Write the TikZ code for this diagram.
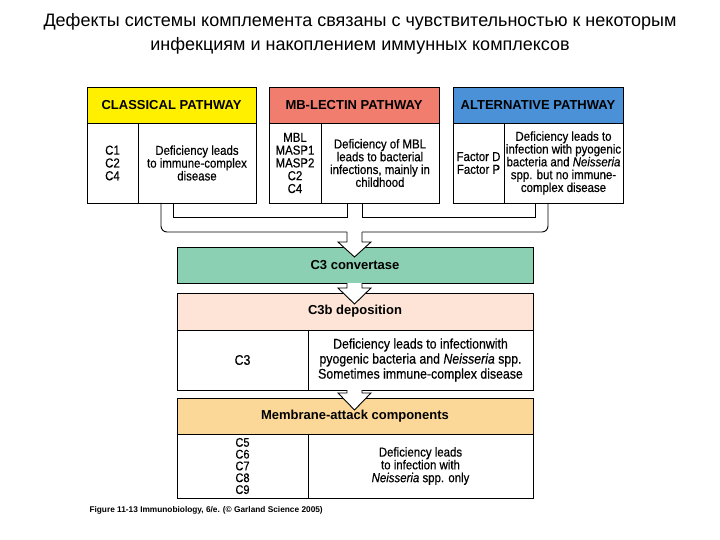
\documentclass[tikz,border=0pt]{standalone}
\usepackage{fontspec}
\setmainfont{Liberation Sans}
\newfontfamily\narrowsans{Liberation Sans}[FakeStretch=0.88, FakeBold=0.5]
\usepackage{tikz}

\definecolor{cpyellow}{RGB}{255,240,0}
\definecolor{mblsalmon}{RGB}{240,125,110}
\definecolor{apblue}{RGB}{75,145,215}
\definecolor{convgreen}{RGB}{140,208,180}
\definecolor{depopink}{RGB}{253,228,214}
\definecolor{macorange}{RGB}{251,216,152}

\begin{document}
\begin{tikzpicture}[x=1pt, y=-1pt]
			\tikzstyle{Head}	= [draw, line width=0.9pt, inner sep=0pt, minimum height=36pt, font=\bfseries\fontsize{13}{15}\selectfont]
			\tikzstyle{Cell}	= [draw, line width=0.9pt, inner sep=0pt, align=center, font=\narrowsans\fontsize{13}{12.8}\selectfont]
			\tikzstyle{BigCell}	= [Cell, font=\narrowsans\fontsize{14}{15}\selectfont]
			\tikzstyle{Pipe}	= [line width=0.9pt]
			\tikzstyle{Outer}	= [Pipe, rounded corners=6pt]
			\tikzstyle{Flow}	= [Pipe, fill=white]
			
			\useasboundingbox (0, 0) rectangle (720, 540);
			
			\node (title) at (360, 34) [align=center, font=\fontsize{18}{24}\selectfont] {Дефекты системы комплемента связаны с чувствительностью к некоторым\\инфекциям и накоплением иммунных комплексов};
			
			% three pathways
			\node (cp) at (171.5, 105) [Head][fill=cpyellow, minimum width=169pt] {CLASSICAL PATHWAY};
			\node (cpgenes) at (112.5, 163) [Cell][minimum width=51pt, minimum height=80pt] {C1\\C2\\C4};
			\node (cpdef) at (197, 163) [Cell][minimum width=118pt, minimum height=80pt] {Deficiency leads\\to immune-complex\\disease};
			
			\node (mb) at (354, 105) [Head][fill=mblsalmon, minimum width=170pt] {MB-LECTIN PATHWAY};
			\node (mbgenes) at (295, 163) [Cell][minimum width=52pt, minimum height=80pt] {MBL\\MASP1\\MASP2\\C2\\C4};
			\node (mbdef) at (380, 163) [Cell][minimum width=118pt, minimum height=80pt] {Deficiency of MBL\\leads to bacterial\\infections, mainly in\\childhood};
			
			\node (ap) at (538, 105) [Head][fill=apblue, minimum width=170pt] {ALTERNATIVE PATHWAY};
			\node (apgenes) at (478.5, 163) [Cell][minimum width=51pt, minimum height=80pt] {Factor D\\Factor P};
			\node (apdef) at (563.5, 163) [Cell][minimum width=119pt, minimum height=80pt] {Deficiency leads to\\infection with pyogenic\\bacteria and \textit{Neisseria}\\spp. but no immune-\\complex disease};
			
			% common steps
			\node (conv) at (355, 265) [Head][fill=convgreen, minimum width=356pt] {C3 convertase};
			
			\node (depo) at (355, 311.5) [Head][fill=depopink, minimum width=356pt, minimum height=37pt] {C3b deposition};
			\node (depogenes) at (242.5, 360) [BigCell][minimum width=131pt, minimum height=60pt] {C3};
			\node (depodef) at (420.5, 360) [BigCell][minimum width=225pt, minimum height=60pt] {Deficiency leads to infectionwith\\pyogenic bacteria and \textit{Neisseria} spp.\\Sometimes immune-complex disease};
			
			\node (mac) at (355, 416) [Head][fill=macorange, minimum width=356pt] {Membrane-attack components};
			\node (macgenes) at (242.5, 466) [Cell][minimum width=131pt, minimum height=64pt, font=\narrowsans\fontsize{12.5}{11.8}\selectfont] {C5\\C6\\C7\\C8\\C9};
			\node (macdef) at (420.5, 466) [Cell][minimum width=225pt, minimum height=64pt] {Deficiency leads\\to infection with\\\textit{Neisseria} spp. only};
			
			\node (fig) at (86, 510) [anchor=west, font=\bfseries\fontsize{8.3}{9}\selectfont] {Figure 11-13 Immunobiology, 6/e. (© Garland Science 2005)};
			
			% pipes joining the pathways
			\coordinate (cpout) at (161, 203);
			\coordinate (cpin) at (173, 203);
			\coordinate (mbleft) at (347, 203);
			\coordinate (mbright) at (362, 203);
			\coordinate (apin) at (535, 203);
			\coordinate (apout) at (548, 203);
			
			\draw [Pipe] (cpin) -- (173, 217) -- (347, 217) -- (mbleft);
			\draw [Pipe] (mbright) -- (362, 217) -- (535, 217) -- (apin);
			\draw [Outer] (cpout) -- (161, 232) -- (347, 232);
			\draw [Outer] (362, 232) -- (548, 232) -- (apout);
			
			% block arrows
			\draw [Flow] (347, 232) -- (347, 242) -- (338, 242) -- (354.5, 257) -- (371, 242) -- (362, 242) -- (362, 232);
			\draw [Flow] (347, 283) -- (347, 288) -- (338, 288) -- (354.5, 304) -- (371, 288) -- (362, 288) -- (362, 283);
			\draw [Flow] (347, 390) -- (347, 393) -- (338, 393) -- (354.5, 410) -- (371, 393) -- (362, 393) -- (362, 390);
		\end{tikzpicture}
\end{document}
